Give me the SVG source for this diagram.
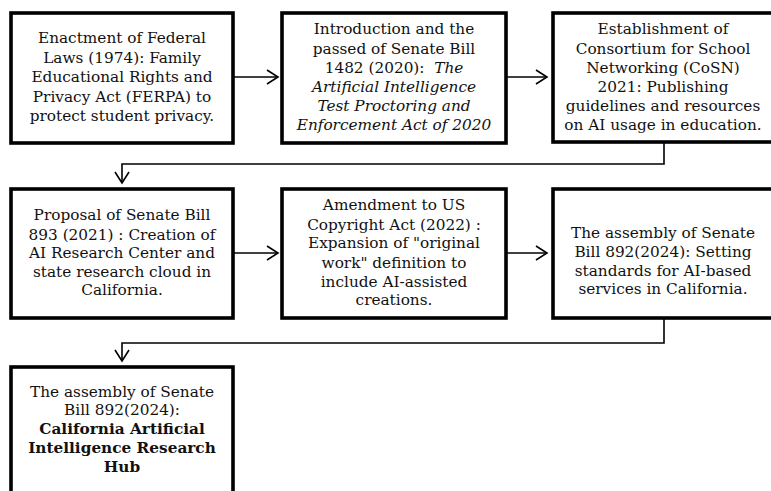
<svg xmlns="http://www.w3.org/2000/svg" width="771" height="491" viewBox="0 0 771 491">
<defs>
<marker id="arr" markerUnits="userSpaceOnUse" markerWidth="16" markerHeight="18" refX="12" refY="8" orient="auto">
<path d="M1,1 L12,8 L1,15" fill="none" stroke="#000" stroke-width="1.6"/>
</marker>
<style>
.box{fill:#fff;stroke:#000;stroke-width:3.6}
.t{font-family:"DejaVu Serif","Liberation Serif",serif;font-size:15.3px;fill:#111;text-anchor:middle}
.i{font-style:italic}
.b{font-weight:bold}
.c{fill:none;stroke:#000;stroke-width:1.6}
</style>
</defs>
<rect width="771" height="491" fill="#fff"/>
<g id="connectors">
<path class="c" d="M233,77 H278" marker-end="url(#arr)"/>
<path class="c" d="M506,77 H547" marker-end="url(#arr)"/>
<path class="c" d="M664,142 V164 H122 V183" marker-end="url(#arr)"/>
<path class="c" d="M233,253 H278" marker-end="url(#arr)"/>
<path class="c" d="M506,253 H547" marker-end="url(#arr)"/>
<path class="c" d="M664,318 V343 H122 V361" marker-end="url(#arr)"/>
</g>
<g id="n1">
<rect class="box" x="11" y="13" width="222" height="130"/>
<text class="t" x="122" y="43">Enactment of Federal</text>
<text class="t" x="122" y="63">Laws (1974): Family</text>
<text class="t" x="122" y="82">Educational Rights and</text>
<text class="t" x="122" y="102">Privacy Act (FERPA) to</text>
<text class="t" x="122" y="121">protect student privacy.</text>
</g>
<g id="n2">
<rect class="box" x="282" y="13" width="224" height="130"/>
<text class="t" x="394" y="34">Introduction and the</text>
<text class="t" x="394" y="54">passed of Senate Bill</text>
<text class="t" x="394" y="73">1482 (2020):&#160; <tspan class="i">The</tspan></text>
<text class="t i" x="394" y="92">Artificial Intelligence</text>
<text class="t i" x="394" y="111">Test Proctoring and</text>
<text class="t i" x="394" y="130">Enforcement Act of 2020</text>
</g>
<g id="n3">
<rect class="box" x="553" y="13" width="222" height="129"/>
<text class="t" x="663" y="34">Establishment of</text>
<text class="t" x="663" y="54">Consortium for School</text>
<text class="t" x="663" y="73">Networking (CoSN)</text>
<text class="t" x="663" y="92">2021: Publishing</text>
<text class="t" x="663" y="111">guidelines and resources</text>
<text class="t" x="663" y="130">on AI usage in education.</text>
</g>
<g id="n4">
<rect class="box" x="11" y="189" width="222" height="129"/>
<text class="t" x="122" y="220">Proposal of Senate Bill</text>
<text class="t" x="122" y="240">893 (2021) : Creation of</text>
<text class="t" x="122" y="258">AI Research Center and</text>
<text class="t" x="122" y="277">state research cloud in</text>
<text class="t" x="122" y="295">California.</text>
</g>
<g id="n5">
<rect class="box" x="282" y="189" width="224" height="129"/>
<text class="t" x="394" y="210">Amendment to US</text>
<text class="t" x="394" y="230">Copyright Act (2022) :</text>
<text class="t" x="394" y="248">Expansion of "original</text>
<text class="t" x="394" y="268">work" definition to</text>
<text class="t" x="394" y="287">include AI-assisted</text>
<text class="t" x="394" y="305">creations.</text>
</g>
<g id="n6">
<rect class="box" x="553" y="189" width="222" height="129"/>
<text class="t" x="663" y="238">The assembly of Senate</text>
<text class="t" x="663" y="257">Bill 892(2024): Setting</text>
<text class="t" x="663" y="276">standards for AI-based</text>
<text class="t" x="663" y="294">services in California.</text>
</g>
<g id="n7">
<rect class="box" x="11" y="367" width="222" height="140"/>
<text class="t" x="122" y="397">The assembly of Senate</text>
<text class="t" x="122" y="415">Bill 892(2024):</text>
<text class="t b" x="122" y="434">California Artificial</text>
<text class="t b" x="122" y="453">Intelligence Research</text>
<text class="t b" x="122" y="472">Hub</text>
</g>
</svg>
